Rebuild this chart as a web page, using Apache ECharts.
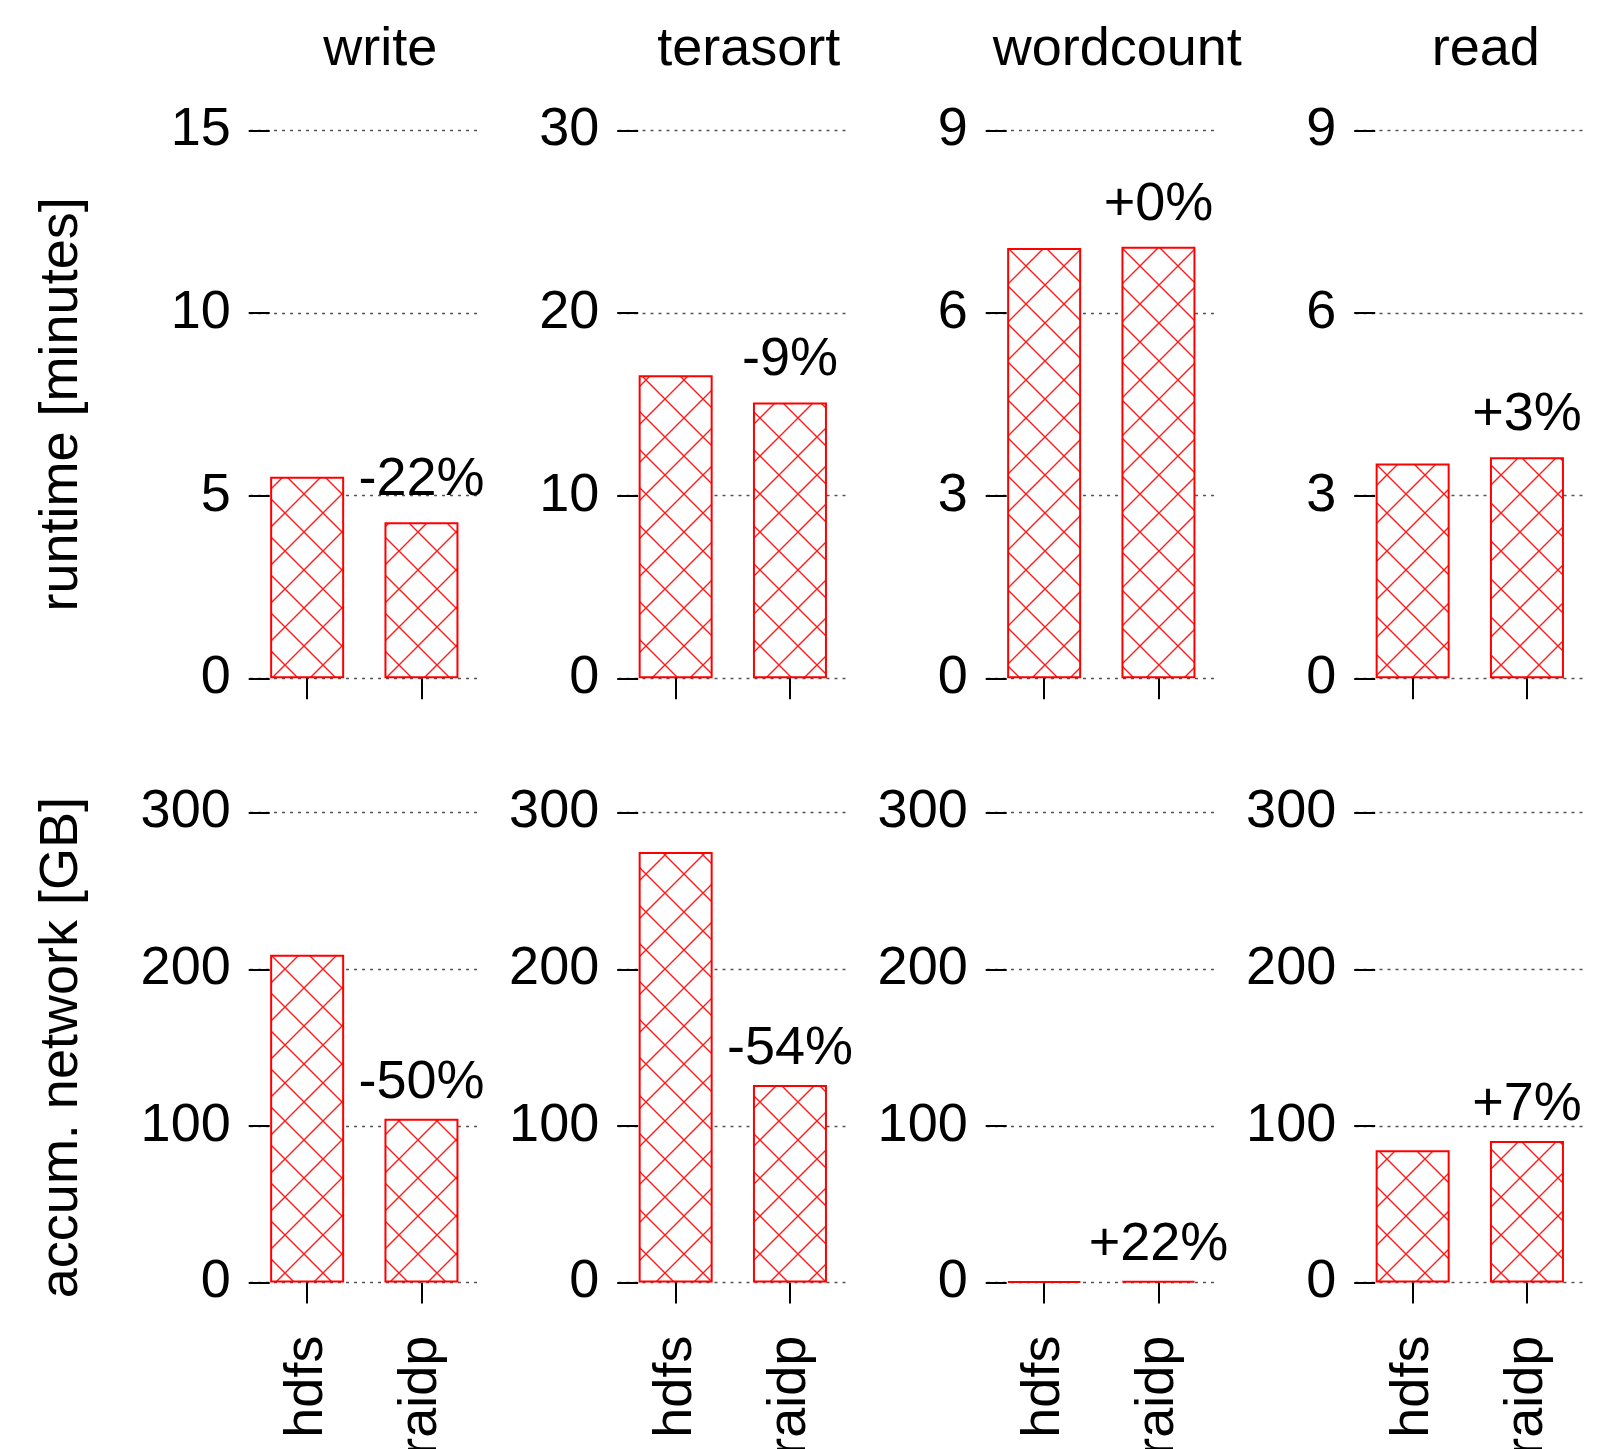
<!DOCTYPE html>
<html>
<head>
<meta charset="utf-8">
<script src="https://cdn.jsdelivr.net/npm/echarts@6/dist/echarts.min.js"></script>
<style>
html,body{margin:0;padding:0;background:#fff;overflow:hidden;}
#c{width:1621px;height:1449px;}
</style>
</head>
<body>
<div id="c"></div>
<script>
// ---- data ----
const workloads = ['write', 'terasort', 'wordcount', 'read'];
const systems = ['hdfs', 'raidp'];
const runtimeMinutes = [[5.52, 4.27], [16.6, 15.1], [7.07, 7.09], [3.53, 3.63]];
const networkGB = [[209.3, 104.6], [274.8, 126.2], [0.9, 1.1], [84.5, 90.4]];
const runtimeChange = ['-22%', '-9%', '+0%', '+3%'];
const networkChange = ['-50%', '-54%', '+22%', '+7%'];
const runtimeMax = [15, 30, 9, 9];
const runtimeStep = [5, 10, 3, 3];
const networkMax = [300, 300, 300, 300];
const networkStep = [100, 100, 100, 100];
const rowNames = ['runtime [minutes]', 'accum. network [GB]'];

// ---- hatch pattern ----
function makeHatch() {
  const s = 38;
  const cv = document.createElement('canvas');
  cv.width = s; cv.height = s;
  const ctx = cv.getContext('2d');
  ctx.fillStyle = '#ffffff';
  ctx.fillRect(0, 0, s, s);
  ctx.strokeStyle = 'rgba(255,0,0,0.9)';
  ctx.lineWidth = 1.4;
  ctx.beginPath();
  ctx.moveTo(0, 0); ctx.lineTo(s, s);
  ctx.moveTo(s, 0); ctx.lineTo(0, s);
  ctx.stroke();
  return cv;
}
const hatch = makeHatch();

const FONT = '"Liberation Sans", Arial, Helvetica, sans-serif';
const colLeft0 = 250, colStep = 368.5, gridW = 228.6;
const rows = [
  {top: 130.5, height: 547.8, values: runtimeMinutes, change: runtimeChange, max: runtimeMax, step: runtimeStep, dist: 15},
  {top: 812.6, height: 470.0, values: networkGB, change: networkChange, max: networkMax, step: networkStep, dist: 9}
];

const grid = [], xAxis = [], yAxis = [], series = [], graphic = [];
let idx = 0;
rows.forEach((row, r) => {
  workloads.forEach((w, c) => {
    grid.push({left: colLeft0 + c * colStep, top: row.top, width: gridW, height: row.height,
               containLabel: false, outerBoundsMode: 'none'});
    xAxis.push({
      type: 'category', gridIndex: idx, data: systems,
      axisLine: {show: false},
      axisTick: {show: true, alignWithLabel: true, length: 21, lineStyle: {color: '#000', width: 2}},
      axisLabel: {show: r === 1, rotate: 90, margin: 53, fontSize: 54, color: '#000', fontFamily: FONT, hideOverlap: false},
      splitLine: {show: false}
    });
    yAxis.push({
      type: 'value', gridIndex: idx, min: 0, max: row.max[c], interval: row.step[c],
      offset: -19.7,
      axisLine: {show: false},
      axisTick: {show: true, length: 21, lineStyle: {color: '#000', width: 2}},
      axisLabel: {fontSize: 54, color: '#000', margin: 39, fontFamily: FONT},
      splitLine: {show: true, lineStyle: {color: '#555', width: 1.3, type: [3, 5]}}
    });
    const ch = row.change[c];
    series.push({
      type: 'bar', xAxisIndex: idx, yAxisIndex: idx,
      data: row.values[c],
      barWidth: 74,
      itemStyle: {color: {image: hatch, repeat: 'repeat'}, borderColor: '#ff0000', borderWidth: 2},
      label: {
        show: true, position: 'top', distance: row.dist, fontSize: 54, color: '#000', fontFamily: FONT,
        formatter: (p) => p.dataIndex === 1 ? ch : ''
      },
      silent: true, animation: false
    });
    idx++;
  });
});

workloads.forEach((w, c) => {
  graphic.push({
    type: 'text', x: colLeft0 + c * colStep + gridW / 2 + 16, y: 50,
    style: {text: w, font: '54px ' + FONT, fill: '#000', align: 'center', verticalAlign: 'middle'}
  });
});
rowNames.forEach((n, r) => {
  graphic.push({
    type: 'text', x: 62, y: rows[r].top + rows[r].height / 2, rotation: Math.PI / 2,
    style: {text: n, font: '54px ' + FONT, fill: '#000', align: 'center', verticalAlign: 'middle'}
  });
});

const chart = echarts.init(document.getElementById('c'), null, {renderer: 'canvas'});
chart.setOption({
  backgroundColor: '#ffffff',
  animation: false,
  textStyle: {fontFamily: FONT},
  grid, xAxis, yAxis, series, graphic
});
</script>
</body>
</html>
